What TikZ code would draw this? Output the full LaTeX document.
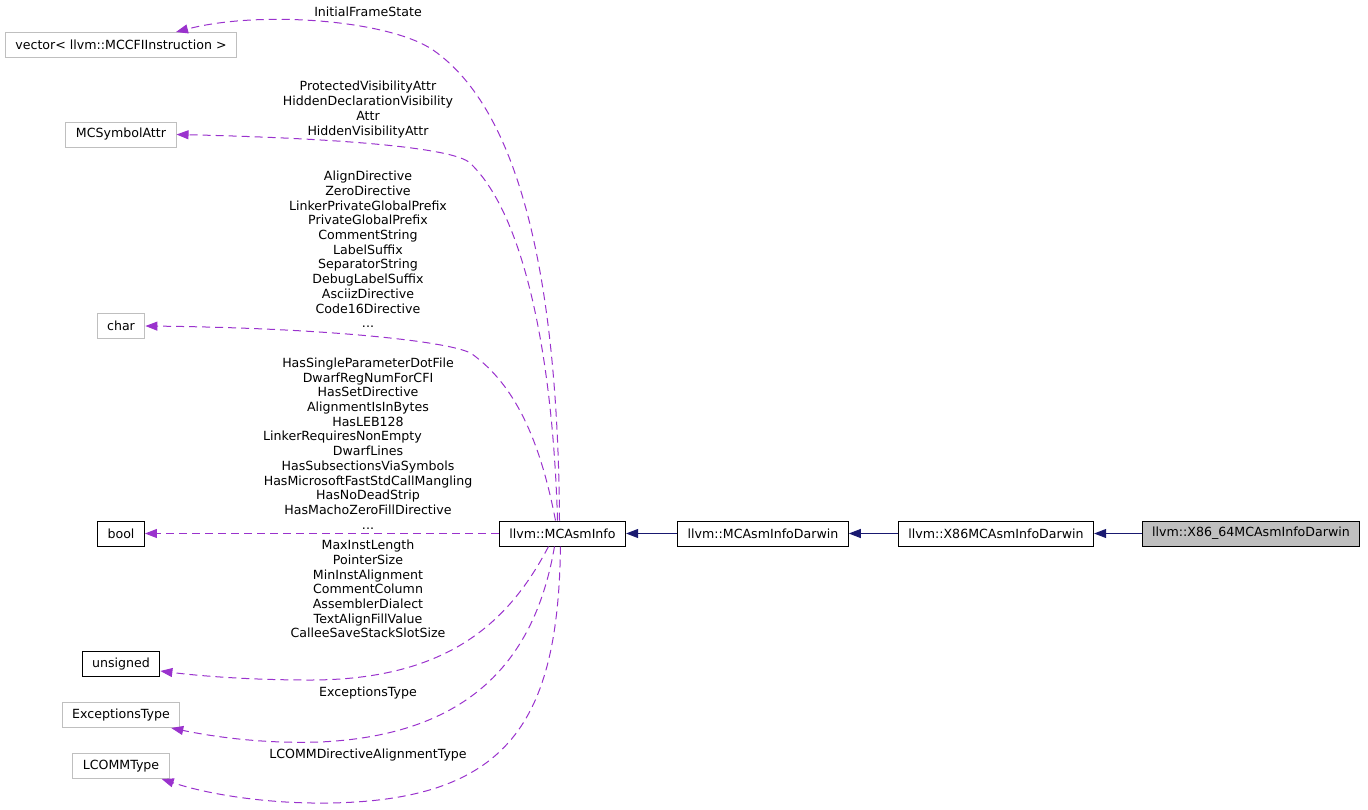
\documentclass[tikz,border=0pt]{standalone}
\usepackage{fontspec}
\setmainfont{DejaVu Sans}
\usepackage{xcolor}
\usepackage{tikz}
\usetikzlibrary{arrows.meta}

\definecolor{edgepurple}{HTML}{9A32CD}
\definecolor{edgeblue}{HTML}{191970}
\definecolor{boxgray}{HTML}{BFBFBF}

\begin{document}
\begin{tikzpicture}[x=1pt, y=-1pt,
    every node/.style={font=\fontsize{12.6}{14.7}\selectfont},
    classbox/.style={draw=black, line width=1pt, minimum height=25pt, inner xsep=10pt, inner ysep=0pt},
    extbox/.style={classbox, draw=boxgray},
    usage/.style={edgepurple, line width=1pt, dash pattern=on 8pt off 5pt, -{Triangle[length=12pt,width=9pt]}},
    inherit/.style={edgeblue, line width=1pt, -{Triangle[length=12pt,width=9pt]}},
    lbl/.style={align=center, inner sep=0pt}]
    \useasboundingbox (0,0) rectangle (1368,809);

    % Member types
    \node[extbox] (vec) at (121,45) {vector< llvm::MCCFIInstruction >};
    \node[extbox] (symattr) at (121,134.5) {MCSymbolAttr};
    \node[extbox] (chr) at (121,326) {char};
    \node[classbox] (boolnode) at (121,533.5) {bool};
    \node[classbox] (unsig) at (121,664) {unsigned};
    \node[extbox] (exctype) at (121,715) {ExceptionsType};
    \node[extbox] (lcomm) at (121,766) {LCOMMType};

    % Inheritance chain
    \node[classbox] (asminfo) at (562.5,533.5) {llvm::MCAsmInfo};
    \node[classbox] (darwin) at (763,533.5) {llvm::MCAsmInfoDarwin};
    \node[classbox] (xdarwin) at (996,533.5) {llvm::X86MCAsmInfoDarwin};
    \node[classbox, fill=boxgray] (xxdarwin) at (1251,533.5) {llvm::X86\_64MCAsmInfoDarwin};

    \draw[inherit] (darwin.west) -- (asminfo.east);
    \draw[inherit] (xdarwin.west) -- (darwin.east);
    \draw[inherit] (xxdarwin.west) -- (xdarwin.east);

    % Usage edges
    \draw[usage] ([xshift=-3pt]asminfo.north) .. controls (558,280) and (520,110) .. (433,50)
        .. controls (389,20) and (260,10) .. ([xshift=55pt]vec.north);
    \draw[usage] ([xshift=-5pt]asminfo.north) .. controls (553,360) and (525,215) .. (470,163)
        .. controls (453,147) and (330,138) .. (symattr.east);
    \draw[usage] ([xshift=-7pt]asminfo.north) .. controls (540,440) and (515,385) .. (472,354)
        .. controls (455,342) and (330,328) .. (chr.east);
    \draw[usage] (asminfo.west) -- (boolnode.east);
    \draw[usage] ([xshift=-14pt]asminfo.south) .. controls (510,620) and (450,680) .. (310,680)
        .. controls (250,680) and (200,676) .. ([yshift=-7pt]unsig.east);
    \draw[usage] ([xshift=-8pt]asminfo.south) .. controls (535,660) and (470,735) .. (320,742)
        .. controls (260,744) and (210,736) .. ([xshift=-9pt]exctype.south east);
    \draw[usage] ([xshift=-2pt]asminfo.south) .. controls (558,720) and (510,800) .. (330,803)
        .. controls (270,804) and (210,795) .. ([xshift=-8pt]lcomm.south east);

    % Edge labels
    \node[lbl] (lblframe) at (368,12) {InitialFrameState};
    \node[lbl] (lblvis) at (368,109.5) {ProtectedVisibilityAttr\\HiddenDeclarationVisibility\\Attr\\HiddenVisibilityAttr};
    \node[lbl] (lblstr) at (368,249.5) {AlignDirective\\ZeroDirective\\LinkerPrivateGlobalPrefix\\PrivateGlobalPrefix\\CommentString\\LabelSuffix\\SeparatorString\\DebugLabelSuffix\\AsciizDirective\\Code16Directive\\...};
    \node[lbl] (lblflags) at (368,443.5) {HasSingleParameterDotFile\\DwarfRegNumForCFI\\HasSetDirective\\AlignmentIsInBytes\\HasLEB128\\LinkerRequiresNonEmpty\hbox to 51pt{}\\DwarfLines\\HasSubsectionsViaSymbols\\HasMicrosoftFastStdCallMangling\\HasNoDeadStrip\\HasMachoZeroFillDirective\\...};
    \node[lbl] (lblsizes) at (368,589) {MaxInstLength\\PointerSize\\MinInstAlignment\\CommentColumn\\AssemblerDialect\\TextAlignFillValue\\CalleeSaveStackSlotSize};
    \node[lbl] (lblexc) at (368,693) {ExceptionsType};
    \node[lbl] (lbllcomm) at (368,755) {LCOMMDirectiveAlignmentType};
\end{tikzpicture}
\end{document}
